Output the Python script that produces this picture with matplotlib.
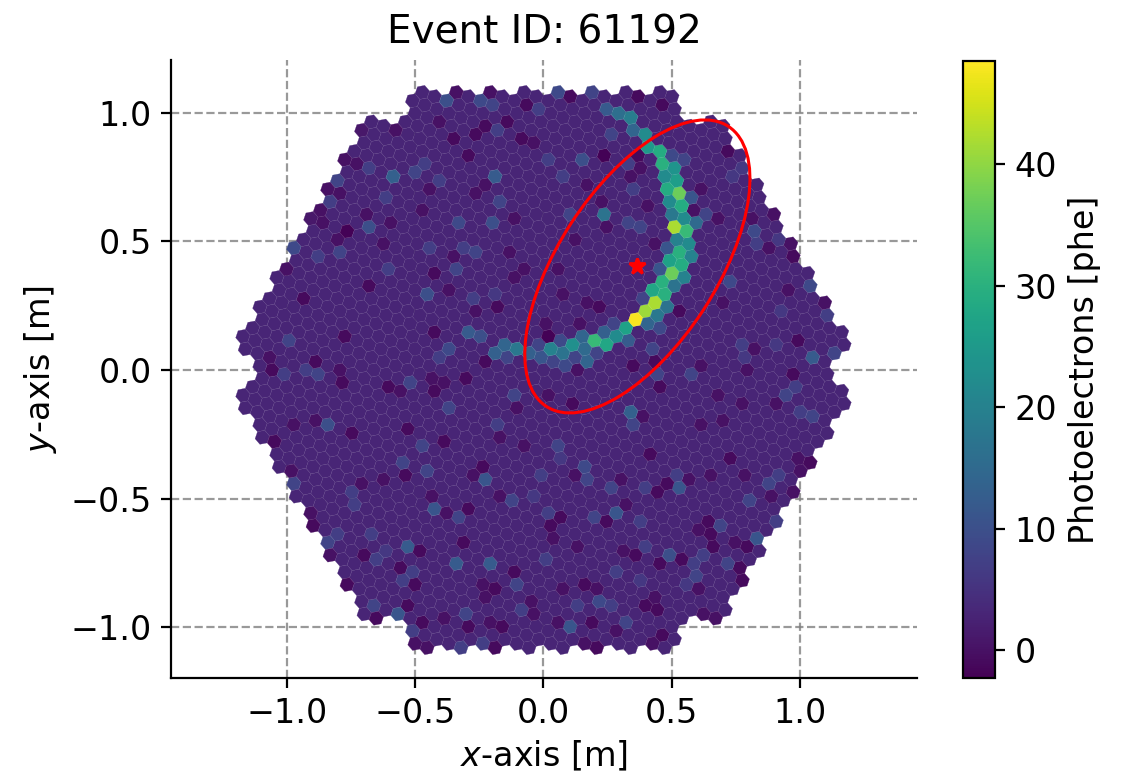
import numpy as np
import matplotlib
matplotlib.use('Agg')
import matplotlib.pyplot as plt
from matplotlib.collections import PolyCollection
from matplotlib.patches import Ellipse

event_id = 61192
background_pe = 3.0

# pixels that stand out from the background
pixel_id = [
    3, 4, 5, 6, 9, 13, 16, 17, 19, 20, 30, 31, 38, 40, 41,
    45, 46, 49, 54, 56, 62, 63, 68, 76, 79, 82, 85, 95, 96, 98,
    105, 109, 112, 113, 114, 131, 132, 138, 141, 142, 151, 152, 157, 164, 166,
    167, 172, 173, 181, 187, 188, 190, 193, 199, 203, 206, 208, 209, 211, 212,
    213, 220, 221, 222, 225, 227, 229, 230, 231, 232, 249, 261, 265, 266, 274,
    280, 285, 292, 293, 294, 297, 299, 301, 303, 305, 312, 313, 318, 331, 336,
    338, 340, 357, 361, 362, 364, 365, 372, 374, 375, 386, 391, 397, 400, 410,
    414, 422, 424, 430, 439, 443, 444, 453, 454, 458, 460, 464, 465, 469, 471,
    476, 477, 483, 485, 486, 487, 493, 500, 503, 505, 507, 508, 509, 517, 533,
    542, 545, 558, 563, 567, 570, 579, 592, 602, 616, 617, 622, 629, 632, 634,
    638, 641, 651, 664, 676, 677, 703, 704, 716, 718, 738, 772, 773, 779, 789,
    802, 803, 806, 809, 825, 829, 841, 844, 848, 857, 858, 860, 868, 869, 871,
    875, 876, 877, 882, 888, 902, 906, 908, 909, 912, 915, 920, 926, 927, 931,
    933, 934, 935, 946, 947, 949, 953, 963, 966, 969, 974, 983, 994, 1012, 1024,
    1031, 1034, 1037, 1040, 1042, 1044, 1048, 1049, 1050, 1051, 1054, 1055, 1056, 1057, 1058,
    1059, 1061, 1062, 1063, 1064, 1067, 1068, 1074, 1076, 1086, 1093, 1097, 1099, 1112, 1123,
    1155, 1158, 1166, 1175, 1178, 1182, 1187, 1189, 1190, 1191, 1192, 1193, 1195, 1196, 1197,
    1201, 1206, 1218, 1226, 1227, 1235, 1247, 1256, 1262, 1266, 1270, 1272, 1280, 1284, 1285,
    1291, 1294, 1309, 1310, 1311, 1312, 1314, 1315, 1320, 1323, 1338, 1342, 1345, 1348, 1351,
    1354, 1360, 1373, 1376, 1379, 1383, 1386, 1403, 1416, 1421, 1422, 1423, 1424, 1425, 1426,
    1427, 1437, 1443, 1444, 1445, 1446, 1449, 1452, 1453, 1457, 1458, 1461, 1463, 1473, 1477,
    1484, 1495, 1500, 1506, 1507, 1512, 1513, 1520, 1521, 1526, 1528, 1529, 1530, 1531, 1537,
    1542, 1544, 1545, 1547, 1550, 1551, 1552, 1555, 1571, 1572, 1575, 1577, 1587, 1598, 1608,
    1614, 1616, 1617, 1618, 1620, 1621, 1622, 1623, 1628, 1638, 1639, 1642, 1651, 1652, 1657,
    1661, 1672, 1684, 1686, 1689, 1691, 1694, 1695, 1696, 1700, 1701, 1702, 1703, 1704, 1707,
    1712, 1716, 1718, 1721, 1726, 1733, 1737, 1739, 1743, 1745, 1751, 1753, 1754, 1762, 1771,
    1778, 1782, 1784, 1809, 1810, 1813, 1816, 1817, 1820, 1821, 1829, 1830, 1835, 1837, 1843,
    1846, 1847, 1848]
pixel_pe = [
    -1, 7, 0, 0, -1, 7, -1, 0, 7, -1, 11, 0, -1, 0, -1,
    8, 0, -1, 0, 8, -1, -1, 11, 0, 0, 8, 7, 0, 0, 7,
    7, 9, -1, -1, 0, 0, 0, -1, 7, -1, 7, -1, 12, 12, 0,
    -1, -1, 8, 0, -1, 0, 6, 7, -1, 8, 7, 6, 0, -1, -1,
    8, 7, 8, 0, 6, 7, -1, 7, 12, -1, -1, 0, 7, 0, 0,
    7, -1, 10, -1, -1, -1, 7, -1, 11, 0, 0, -1, 7, 11, 8,
    -1, 0, -1, 7, -1, 8, -1, 7, 0, 11, -1, 0, 8, 7, 8,
    7, 0, 0, -1, 0, 11, 0, 0, 8, 7, 6, 8, 0, 8, 0,
    7, -1, 11, 0, 7, -1, 0, 0, 8, 0, 7, 8, 0, 0, 8,
    8, 8, -1, 0, 6, 8, 9, -1, -1, 0, -1, 0, -1, 0, 0,
    -1, 10, -1, -1, 7, 0, 0, 8, 0, 0, 8, 0, -1, -1, 8,
    8, 0, -1, 0, 13, -1, 0, 0, 0, 7, 8, 7, -1, 7, 0,
    7, 8, -1, 0, -1, 8, 7, 0, 0, -1, -1, 8, 8, 11, 0,
    14, 8, 9, 8, -1, -1, 8, 0, 0, 6, -1, 12, 8, -1, -1,
    12, 9, 14, 10, 13, 8, 18, 13, 9, 23, -2, 20, 17, 32, 28,
    13, 14, 15, 8, 12, 27, 22, 9, 8, 7, 6, 0, -1, 8, -1,
    0, 7, -1, 0, 0, 0, -1, 8, 41, 18, 42, 8, 48, 14, -1,
    17, 0, 6, 7, 0, 0, -1, 7, -1, 10, 8, 0, 6, 0, 0,
    0, 0, 30, 17, 37, 11, 28, 30, 20, 9, 9, 0, 7, 9, 8,
    0, 0, 0, 7, 8, 7, 0, 0, 0, 30, 20, 22, 20, 11, 27,
    29, 7, -1, 0, 6, 0, 0, 0, 1, 10, 0, -2, 0, 0, 9,
    10, 0, 8, 0, 17, 8, 8, 42, 18, 15, 8, 0, 22, 32, 0,
    0, 0, 9, 0, 8, 0, 7, 7, 7, 0, 0, 0, 8, 0, 0,
    7, 0, 37, 11, 26, 29, 22, 29, 0, 0, 7, 0, 13, 7, 8,
    -1, 12, 7, 7, -2, 10, 7, 0, -1, 0, 30, 24, 9, 29, 22,
    8, 6, -1, 6, 1, 0, -1, 0, -1, -1, -1, -1, 7, 0, 8,
    22, 14, 25, 0, 10, 8, 0, 9, -1, 7, -1, 9, 12, 8, -1,
    16, 19, -1]
x_ticks = [-1.0, -0.5, 0.0, 0.5, 1.0]
y_ticks = [-1.0, -0.5, 0.0, 0.5, 1.0]
cbar_ticks = [0, 10, 20, 30, 40]

# camera layout: 7 pixel modules on a hex lattice with the 6 corners missing
pitch = 0.05
rot = np.radians(100.893 - 120)
vec_a = pitch*np.array([np.cos(rot), np.sin(rot)])
vec_b = pitch*np.array([np.cos(rot + np.pi/3), np.sin(rot + np.pi/3)])
module_offsets = [(0, 0), (1, 0), (0, 1), (-1, 1), (-1, 0), (0, -1), (1, -1)]
missing = [(9, 0), (-9, 0), (0, 9), (0, -9), (9, -9), (-9, 9)]

pix_pos = []
for n in range(-9, 10):
    for m in range(-9, 10):
        if max(abs(m), abs(n), abs(m + n)) > 9 or (m, n) in missing:
            continue
        for oa, ob in module_offsets:
            pix_pos.append((2*m - n + oa)*vec_a + (m + 3*n + ob)*vec_b)
pix_pos = np.array(pix_pos)

image = np.full(len(pix_pos), background_pe)
image[pixel_id] = pixel_pe

fig = plt.figure(figsize=(5.605, 3.865), dpi=200)
ax = fig.add_axes([171/1121, 95/773, 746/1121, 618/773])

angles = rot + np.radians(30) + np.arange(6)*np.pi/3
hex_shape = 0.99*pitch/np.sqrt(3)*np.c_[np.cos(angles), np.sin(angles)]
cells = PolyCollection([p + hex_shape for p in pix_pos], array=image, cmap='viridis',
                       edgecolors='face', linewidths=0.1, zorder=2)
cells.set_clim(-2.3, 48.5)
ax.add_collection(cells)

ax.set_xlim(-1.452, 1.456)
ax.set_ylim(-1.198, 1.206)
ax.grid(True, color='gray', ls='--', alpha=0.8, lw=0.8)
ax.set_axisbelow(True)
ax.spines[['top', 'right']].set_visible(False)
ax.set_xticks(x_ticks)
ax.set_yticks(y_ticks)
ax.tick_params(labelsize=12)

ax.add_patch(Ellipse((0.366, 0.403), 1.3, 0.616, angle=56.9, fc='none', ec='red', lw=1.1, zorder=3))
ax.plot(0.366, 0.403, '*', color='red', ms=6, zorder=3)

ax.set_title('Event ID: {}'.format(event_id), fontsize=14)
ax.set_xlabel('$x$-axis [m]', fontsize=12, labelpad=3)
ax.set_ylabel('$y$-axis [m]', fontsize=12)

cax = fig.add_axes([963/1121, 95/773, 32/1121, 617/773])
cbar = fig.colorbar(cells, cax=cax)
cbar.set_label('Photoelectrons [phe]', fontsize=12)
cbar.set_ticks(cbar_ticks)
cbar.ax.tick_params(labelsize=12)

fig.savefig('out.png', dpi=200)
